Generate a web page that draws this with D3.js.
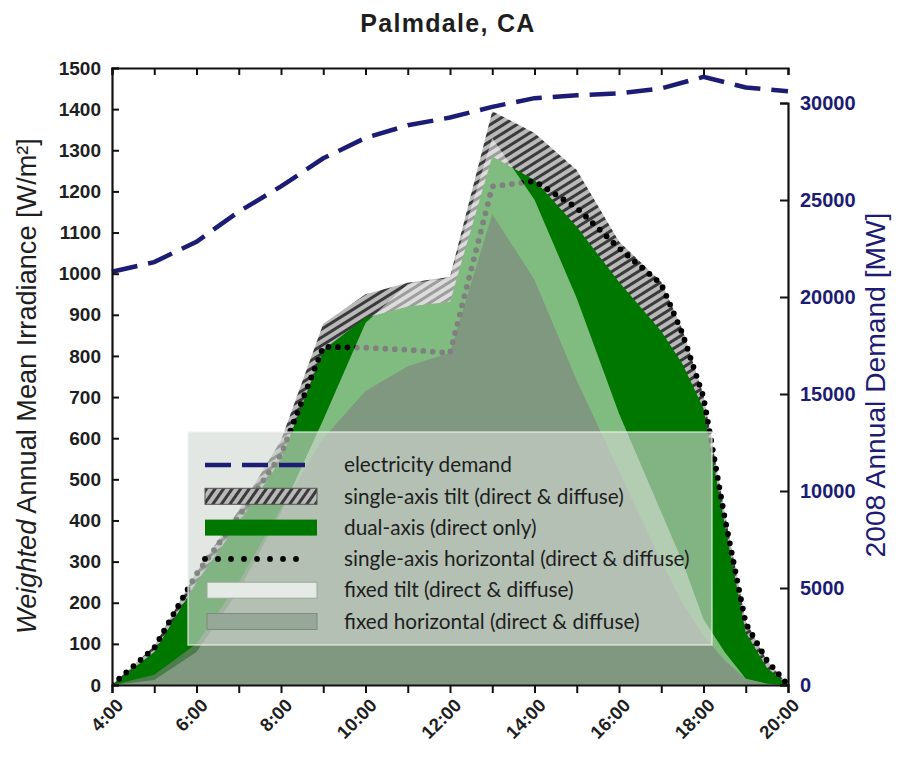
<!DOCTYPE html>
<html><head><meta charset="utf-8">
<script src="https://cdn.jsdelivr.net/npm/d3@7"></script>
<style>
html,body{margin:0;padding:0;background:#fff;}
svg{display:block;}
</style></head>
<body>
<svg id="chart" width="903" height="758"></svg>
<script>
// ---------- DATA ----------
const hours = [4,5,6,7,8,9,10,11,12,13,14,15,16,17,17.5,18,18.5,19,19.5,20];
const singleAxisTilt       = [0,95,275,425,595,878,950,978,992,1395,1342,1252,1078,980,865,705,420,155,60,0];
const dualAxis             = [0,80,250,395,548,815,893,920,932,1285,1228,1114,980,860,781,672,392,128,42,0];
const singleAxisHorizontal = [0,90,270,410,560,822,820,815,807,1212,1225,1160,1062,975,855,700,408,150,60,0];
const fixedTilt            = [0,12,80,230,420,645,880,975,990,1330,1180,940,660,420,300,160,80,15,3,0];
const fixedHorizontal      = [0,25,100,250,430,600,715,775,808,1145,985,740,520,300,200,120,60,15,2,0];

const demandHours = [4,5,6,7,8,9,10,11,12,13,14,15,16,17,18,19,20];
const demandMW    = [21300,21800,22850,24400,25700,27150,28200,28850,29250,29800,30250,30400,30500,30750,31350,30800,30600];

const leftTicks  = d3.range(0,1501,100);
const rightTicks = [0,5000,10000,15000,20000,25000,30000];
const hourTicks  = d3.range(4,21,1);
const hourLabels = ["4:00","6:00","8:00","10:00","12:00","14:00","16:00","18:00","20:00"];

const legendItems = [
  "electricity demand",
  "single-axis tilt (direct & diffuse)",
  "dual-axis (direct only)",
  "single-axis horizontal (direct & diffuse)",
  "fixed tilt (direct & diffuse)",
  "fixed horizontal (direct & diffuse)"
];

// ---------- LAYOUT ----------
const svg = d3.select("#chart");
const L = 112, R = 788, T = 68, B = 685;
const x  = d3.scaleLinear().domain([4,20]).range([L,R]);
const yL = d3.scaleLinear().domain([0,1500]).range([B,T]);
const yR = d3.scaleLinear().domain([0,30000]).range([B,103]);

const navy = "#1c1c74";
const darkGreen = "#007800";
const tickFont = "'Liberation Sans', Arial, sans-serif";

function fitText(sel, baseSize, target){
  const len = sel.node().getComputedTextLength();
  if (len > 0) sel.attr("font-size", baseSize * target / len);
}

const defs = svg.append("defs");
function hatch(id, angle){
  const p = defs.append("pattern").attr("id",id).attr("patternUnits","userSpaceOnUse")
    .attr("width",7).attr("height",7).attr("patternTransform",`rotate(${angle})`);
  p.append("rect").attr("width",7).attr("height",7).attr("fill","#b9b9b9");
  p.append("rect").attr("width",7).attr("height",3).attr("fill","#3a3a3a");
}
hatch("hatch",-32);
hatch("hatchLegend",-55);
defs.append("clipPath").attr("id","plotclip").append("rect")
  .attr("x",L).attr("y",T).attr("width",R-L).attr("height",B-T);

const area = arr => d3.area().x((d,i)=>x(hours[i])).y0(B).y1((d,i)=>yL(arr[i]))(arr);
const line = arr => d3.line().x((d,i)=>x(hours[i])).y((d,i)=>yL(arr[i]))(arr);

const g = svg.append("g").attr("clip-path","url(#plotclip)");
g.append("path").attr("d",area(singleAxisTilt)).attr("fill","url(#hatch)");
g.append("path").attr("d",area(dualAxis)).attr("fill",darkGreen);
g.append("path").attr("d",line(singleAxisHorizontal)).attr("fill","none")
  .attr("stroke","#000").attr("stroke-width",5.8).attr("stroke-linecap","round")
  .attr("stroke-dasharray","0,9.5");
g.append("path").attr("d",area(fixedTilt)).attr("fill","rgba(255,255,255,0.5)");
g.append("path").attr("d",area(fixedHorizontal)).attr("fill","rgba(128,128,128,0.6)");

svg.append("path")
  .attr("d", d3.line().x((d,i)=>x(demandHours[i])).y(d=>yR(d))(demandMW))
  .attr("fill","none").attr("stroke",navy).attr("stroke-width",4.5)
  .attr("stroke-dasharray","26,11");

// ---------- AXES ----------
const leftAxis = svg.append("g").attr("transform",`translate(${L},0)`)
  .call(d3.axisLeft(yL).tickValues(leftTicks).tickSize(-7).tickPadding(11).tickFormat(d3.format("d")));
const rightAxis = svg.append("g").attr("transform",`translate(${R},0)`)
  .call(d3.axisRight(yR).tickValues(rightTicks).tickSize(-8).tickPadding(12).tickFormat(d3.format("d")));
const topAxis = svg.append("g").attr("transform",`translate(0,${T})`)
  .call(d3.axisTop(x).tickValues(hourTicks).tickSize(-7).tickFormat(""));
const bottomAxis = svg.append("g").attr("transform",`translate(0,${B})`)
  .call(d3.axisBottom(x).tickValues(hourTicks).tickSize(8).tickFormat(""));

[leftAxis,rightAxis,topAxis,bottomAxis].forEach(a=>{
  a.select(".domain").attr("stroke","#111").attr("stroke-width",2.2);
  a.selectAll(".tick line").attr("stroke","#111").attr("stroke-width",2);
  a.selectAll("text").attr("font-family",tickFont).attr("font-weight","bold").attr("font-size",19);
});
leftAxis.selectAll("text").attr("fill","#1e1e1e");
rightAxis.selectAll("text").attr("fill",navy).attr("font-size",20);

bottomAxis.selectAll(".lbl").data(hourLabels).enter().append("text")
  .attr("class","lbl")
  .attr("transform",(d,i)=>`translate(${x(4+2*i)+8},${17}) rotate(-45)`)
  .attr("text-anchor","end").attr("dy","0.35em")
  .attr("font-family",tickFont).attr("font-weight","bold").attr("font-size",18.5).attr("fill","#1e1e1e")
  .text(d=>d);

// titles
svg.append("text").attr("x",448).attr("y",32).attr("text-anchor","middle")
  .attr("font-family",tickFont).attr("font-weight","bold").attr("font-size",25)
  .attr("letter-spacing",1.3).attr("fill","#1e1e1e")
  .text("Palmdale, CA");

const lt = svg.append("text").attr("transform","translate(36,386) rotate(-90)")
  .attr("text-anchor","middle").attr("font-family",tickFont).attr("font-size",20).attr("fill","#1e1e1e");
lt.append("tspan").attr("font-style","italic").text("Weighted");
lt.append("tspan").text(" Annual Mean Irradiance [W/m²]");
fitText(lt, 20, 496);

const rt = svg.append("text").attr("transform","translate(885,385) rotate(-90)")
  .attr("text-anchor","middle").attr("font-family",tickFont).attr("font-size",20).attr("fill",navy)
  .text("2008 Annual Demand [MW]");
fitText(rt, 20, 345);

// ---------- LEGEND ----------
const lg = svg.append("g");
lg.append("rect").attr("x",188).attr("y",432).attr("width",524).attr("height",213)
  .attr("fill","rgba(210,217,210,0.62)").attr("stroke","rgba(240,244,240,0.7)").attr("stroke-width",1.5);
const rowY = i => 465 + i*31.3;
const sw0 = 205, sw1 = 317;
lg.append("line").attr("x1",sw0).attr("x2",sw1-12).attr("y1",rowY(0)).attr("y2",rowY(0))
  .attr("stroke",navy).attr("stroke-width",4.5).attr("stroke-dasharray","26,11");
lg.append("rect").attr("x",sw0).attr("y",rowY(1)-8).attr("width",sw1-sw0).attr("height",16)
  .attr("fill","url(#hatchLegend)").attr("stroke","#555").attr("stroke-width",1);
lg.append("rect").attr("x",sw0).attr("y",rowY(2)-8).attr("width",sw1-sw0).attr("height",16)
  .attr("fill",darkGreen);
lg.append("line").attr("x1",sw0).attr("x2",sw1-8).attr("y1",rowY(3)).attr("y2",rowY(3))
  .attr("stroke","#000").attr("stroke-width",5.8).attr("stroke-linecap","round").attr("stroke-dasharray","0,13");
lg.append("rect").attr("x",sw0+2).attr("y",rowY(4)-8).attr("width",sw1-sw0-2).attr("height",16)
  .attr("fill","#e6eae6").attr("stroke","#9aa89a").attr("stroke-width",1);
lg.append("rect").attr("x",sw0+2).attr("y",rowY(5)-8).attr("width",sw1-sw0-2).attr("height",16)
  .attr("fill","#98a898").attr("stroke","#7d8c7d").attr("stroke-width",1);

const ltexts = lg.selectAll(".lt").data(legendItems).enter().append("text")
  .attr("class","lt")
  .attr("x",344).attr("y",(d,i)=>rowY(i)).attr("dy","0.35em")
  .attr("font-family","Lato, 'Open Sans', sans-serif").attr("font-size",17).attr("fill","#1e1e1e")
  .text(d=>d);
const longest = d3.max(ltexts.nodes(), n => n.getComputedTextLength());
if (longest > 0) ltexts.attr("font-size", 17 * 346 / longest);
</script>
</body></html>
